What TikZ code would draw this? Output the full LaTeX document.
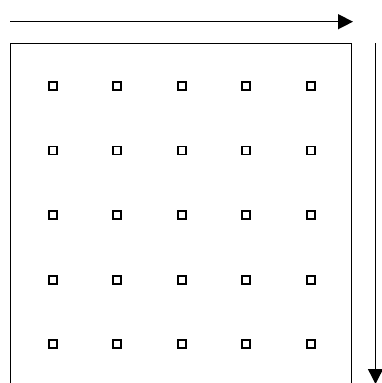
\documentclass[tikz,border=0pt]{standalone}
\usetikzlibrary{arrows.meta}
\begin{document}
\begin{tikzpicture}[x=1pt,y=-1pt,
  cell/.style={draw,line width=1.7pt,minimum size=8pt,inner sep=0pt},
  dirarrow/.style={line width=1.4pt,-{Triangle[length=15pt,width=15pt]}}]
\clip (0,0) rectangle (382,383);
\useasboundingbox (0,0) rectangle (382,383);
\draw[line width=1.5pt] (10.5,43.5) rectangle (351.5,395);
\foreach \i in {0,...,4}{
  \foreach \j in {0,...,4}{
    \node[cell] (c\i\j) at ({52.7+64.5*\i},{85.7+64.65*\j}) {};
  }
}
\coordinate (hs) at (10,21.7);
\coordinate (he) at (353,21.7);
\coordinate (vs) at (375.5,43);
\coordinate (ve) at (375.5,384);
\draw[dirarrow] (hs) -- (he);
\draw[dirarrow] (vs) -- (ve);
\end{tikzpicture}
\end{document}
